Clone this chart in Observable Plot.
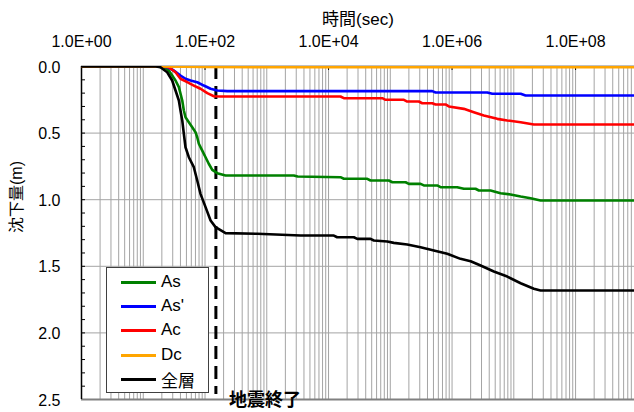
<!DOCTYPE html>
<html><head><meta charset="utf-8">
<script src="https://cdn.jsdelivr.net/npm/d3@7"></script>
<script src="https://cdn.jsdelivr.net/npm/@observablehq/plot@0.6"></script>
<style>
body{margin:0;background:#fff;}
#wrap{position:relative;width:634px;height:412px;overflow:hidden;font-family:"Liberation Sans",Arial,"Noto Sans CJK JP",sans-serif;}
#legend{position:absolute;left:106px;top:267px;width:103px;height:126px;border:1px solid #404040;background:#fff;box-sizing:border-box;}
.item{position:absolute;left:14px;height:20px;display:flex;align-items:center;font-size:17px;color:#000;white-space:nowrap;}
.swatch{width:35px;height:3px;margin-right:5px;}
</style></head>
<body><div id="wrap"></div>
<script>
// Series
const seriesNames = ["As", "As'", "Ac", "Dc", "全層"];
const seriesColors = ["#008000", "#0000ff", "#ff0000", "#ffa500", "#000000"];

// Time (sec) and settlement (m) per series
const tAs = [1,16,21.5,25.9,29.4,33.3,37.7,42.8,45.4,48.3,54.7,62.1,70.1,74.8,79.4,90.2,102,115,131,158,215,2740,3160,15600,17700,42400,47900,94600,108000,177000,200000,309000,349000,575000,652000,1210000,1550000,2400000,2720000,4200000,6100000,8850000,12900000,18700000,27100000,1e9];
const sAs = [0,0,0.005,0.03,0.068,0.105,0.155,0.255,0.33,0.381,0.418,0.456,0.493,0.531,0.58,0.631,0.681,0.73,0.776,0.801,0.818,0.818,0.826,0.831,0.843,0.843,0.856,0.856,0.869,0.869,0.881,0.881,0.893,0.893,0.906,0.906,0.918,0.918,0.931,0.931,0.951,0.961,0.976,0.989,1.006,1.006];

const tAs2 = [1,20,24.4,31.3,40.1,48.3,58.2,74.8,95.7,123,158,229,478000,541000,3720000,4480000,12900000,15500000,1e9];
const sAs2 = [0,0,0.005,0.03,0.068,0.092,0.105,0.118,0.143,0.167,0.18,0.185,0.185,0.195,0.195,0.205,0.205,0.218,0.218];

const tAc = [1,21,25.9,33.3,40.1,51.5,65.9,84.5,109,139,178,15600,17700,74100,83800,166000,188000,290000,329000,478000,541000,785000,887000,1550000,2250000,3270000,5400000,7830000,12900000,21100000,1e9];
const sAc = [0,0,0.005,0.043,0.092,0.118,0.143,0.167,0.2,0.223,0.225,0.225,0.238,0.238,0.25,0.25,0.263,0.263,0.276,0.276,0.285,0.285,0.3,0.318,0.343,0.368,0.393,0.405,0.418,0.435,0.435];

const tDc = [1,20,100,1000,1e9];
const sDc = [0,0,0.004,0.005,0.006];

const tAll = [1,16,19,24.4,29.4,33.3,37.7,40.1,42.8,45.4,48.3,54.7,65.9,74.8,84.5,102,123,148,215,700,3520,12200,13800,25700,29200,47900,54200,89300,114000,188000,309000,507000,836000,1370000,2000000,2900000,4750000,7830000,12900000,21100000,27100000,1e9];
const sAll = [0,0,0.005,0.043,0.105,0.18,0.255,0.33,0.405,0.505,0.606,0.681,0.756,0.856,0.956,1.056,1.156,1.206,1.251,1.256,1.269,1.269,1.282,1.282,1.294,1.294,1.306,1.314,1.324,1.336,1.357,1.381,1.406,1.444,1.462,1.494,1.539,1.577,1.627,1.669,1.682,1.682];

// Earthquake end time (sec)
const quakeEnd = 150;
const quakeLabel = "地震終了";

// Axes
const xTicks = [1, 1e2, 1e4, 1e6, 1e8];
const xTickLabels = ["1.0E+00", "1.0E+02", "1.0E+04", "1.0E+06", "1.0E+08"];
const yTicks = [0, 0.5, 1.0, 1.5, 2.0, 2.5];
const yTickLabels = ["0.0", "0.5", "1.0", "1.5", "2.0", "2.5"];
const yGrid = [0.5, 1.0, 1.5, 2.0];
const yMinor = [0.1,0.2,0.3,0.4,0.5,0.6,0.7,0.8,0.9,1.0,1.1,1.2,1.3,1.4,1.5,1.6,1.7,1.8,1.9,2.0,2.1,2.2,2.3,2.4];
const xTitle = "時間(sec)";
const yTitle = "沈下量(m)";

// log gridlines at every 1..9 × 10^n
const xGrid = [];
for (let n = 0; n <= 8; n++) for (let k = 1; k <= 9; k++) xGrid.push(k * Math.pow(10, n));

const seriesT = [tAs, tAs2, tAc, tDc, tAll];
const seriesS = [sAs, sAs2, sAc, sDc, sAll];
const rows = seriesNames.flatMap((name, i) => seriesT[i].map((t, j) => ({name, t, s: seriesS[i][j]})));

const W = 634, H = 412, ML = 81, MT = 66, MB = 13, MR = 0;
const font = '"Liberation Sans", Arial, "Noto Sans CJK JP", sans-serif';

const chart = Plot.plot({
  width: W, height: H,
  marginLeft: ML, marginRight: MR, marginTop: MT, marginBottom: MB,
  style: {fontFamily: font, fontSize: "16px", color: "#000", background: "#fff", overflow: "visible"},
  x: {type: "log", domain: [1, 9e8], axis: null},
  y: {domain: [0, 2.5], reverse: true, axis: null},
  color: {domain: seriesNames, range: seriesColors},
  marks: [
    Plot.ruleX(xGrid, {stroke: "#a4a4a4", strokeWidth: 1}),
    Plot.ruleY(yGrid, {stroke: "#a4a4a4", strokeWidth: 1}),
    Plot.tickY(yMinor, {stroke: "#000", strokeWidth: 1, insetRight: W - ML - MR - 4}),
    Plot.tickX(xTicks, {stroke: "#000", strokeWidth: 1, insetBottom: H - MT - MB - 4}),
    Plot.ruleY([0], {stroke: "#000", strokeWidth: 1.5}),
    Plot.ruleY([2.5], {stroke: "#808080", strokeWidth: 2}),
    Plot.ruleX([1], {stroke: "#000", strokeWidth: 1.5}),
    Plot.ruleX([quakeEnd], {stroke: "#000", strokeWidth: 3, strokeDasharray: "13,7", insetBottom: 5}),
    Plot.line(rows, {x: "t", y: "s", z: "name", stroke: "name", strokeWidth: 2.6, clip: true}),
    Plot.text(xTicks, {x: d => d, text: xTickLabels, frameAnchor: "top", lineAnchor: "middle", dy: -25, fontSize: 16, fill: "#000"}),
    Plot.text(yTicks, {y: d => d, text: yTickLabels, frameAnchor: "left", lineAnchor: "middle", dx: -21, dy: 1, textAnchor: "end", fontSize: 16, fill: "#000"}),
    Plot.text([xTitle], {text: d => d, frameAnchor: "top", lineAnchor: "middle", dy: -47, fontSize: 17, fill: "#000"}),
    Plot.text([yTitle], {text: d => d, frameAnchor: "left", lineAnchor: "middle", dx: -65, rotate: -90, fontSize: 16, fill: "#000"}),
    Plot.text([quakeLabel], {text: d => d, x: quakeEnd, frameAnchor: "bottom", lineAnchor: "middle", dx: 13, dy: 1, textAnchor: "start", fontWeight: "bold", fontSize: 18, fill: "#000"})
  ]
});

const wrap = document.getElementById("wrap");
wrap.appendChild(chart);

// Legend
const legend = document.createElement("div");
legend.id = "legend";
const rowTops = [4, 28, 52, 77, 101];
seriesNames.forEach((name, i) => {
  const item = document.createElement("div");
  item.className = "item";
  item.style.top = rowTops[i] + "px";
  const sw = document.createElement("span");
  sw.className = "swatch";
  sw.style.background = seriesColors[i];
  const tx = document.createElement("span");
  tx.textContent = name;
  item.appendChild(sw);
  item.appendChild(tx);
  legend.appendChild(item);
});
wrap.appendChild(legend);
</script>
</body></html>
